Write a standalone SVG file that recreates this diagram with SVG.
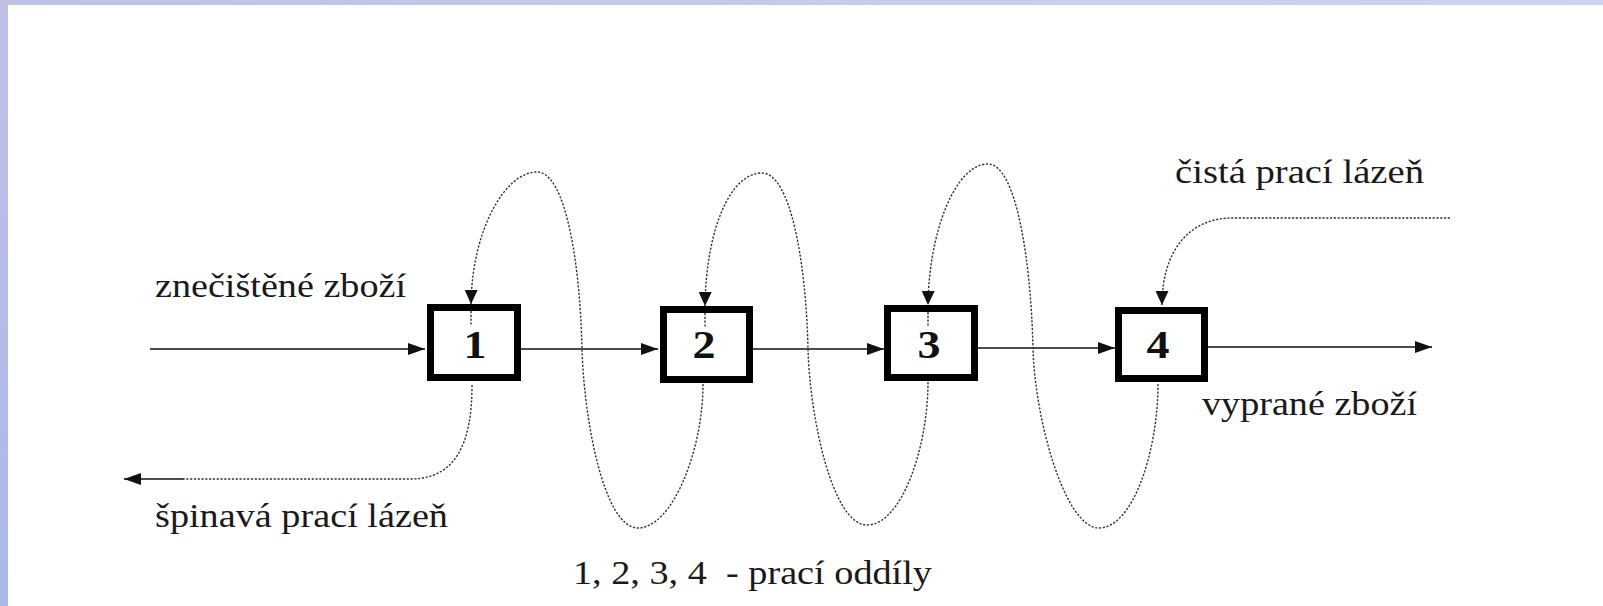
<svg xmlns="http://www.w3.org/2000/svg" width="1603" height="606" viewBox="0 0 1603 606">
<style>
.lbl{font-family:"Liberation Serif","Times New Roman",serif;font-size:33px;fill:#1a1a1a}
.num{font-family:"Liberation Serif","Times New Roman",serif;font-size:40px;font-weight:bold;fill:#111;text-anchor:middle}
.box{fill:#fff;stroke:#000;stroke-width:7}
.solid{fill:none;stroke:#111;stroke-width:1.7}
.dot{fill:none;stroke:#333;stroke-width:1.4;stroke-dasharray:2.2 1.6}
</style>
<defs>
<linearGradient id="gl" x1="0" y1="0" x2="0" y2="1">
<stop offset="0" stop-color="#c0c0e6"/><stop offset="1" stop-color="#a9b9e8"/>
</linearGradient>
<linearGradient id="gt" x1="0" y1="0" x2="1" y2="0">
<stop offset="0" stop-color="#c0c0e6"/><stop offset="1" stop-color="#d2d2ee"/>
</linearGradient>
<marker id="ah" markerUnits="userSpaceOnUse" markerWidth="18" markerHeight="13" refX="17" refY="6" orient="auto">
<path d="M0,0 L17,6 L0,12 z" fill="#111"/>
</marker>
<marker id="av" markerUnits="userSpaceOnUse" markerWidth="14" markerHeight="14" refX="14" refY="6.5" orient="auto">
<path d="M0,0 L14,6.5 L0,13 z" fill="#111"/>
</marker>
</defs>
<rect x="0" y="0" width="1603" height="606" fill="#fff"/>
<rect x="0" y="0" width="8" height="606" fill="url(#gl)"/>
<rect x="8" y="0" width="1595" height="5" fill="url(#gt)"/>

<g id="connectors">
<path class="solid" d="M150 349 L425 349" marker-end="url(#ah)"/>
<path class="solid" d="M521 349 L658 349" marker-end="url(#ah)"/>
<path class="solid" d="M753 349 L884 349" marker-end="url(#ah)"/>
<path class="solid" d="M978 348 L1115 348" marker-end="url(#ah)"/>
<path class="solid" d="M1208 347 L1432 347" marker-end="url(#ah)"/>

<path class="dot" d="M703 384 C703 451, 672 528, 638 528 C604 528, 584 420, 582 349 C580 260, 565 172, 537 172 C505 172, 472 230, 471 304" marker-end="url(#av)"/>
<path class="dot" d="M928 382 C928 449, 901 525, 867 525 C833 525, 810 420, 808 349 C806 260, 790 173, 762 173 C730 173, 706 230, 705 306" marker-end="url(#av)"/>
<path class="dot" d="M1158 384 C1158 451, 1133 528, 1099 528 C1065 528, 1035 420, 1033 349 C1031 260, 1016 164, 988 164 C956 164, 929 230, 928 305" marker-end="url(#av)"/>

<path class="dot" d="M472 385 C472 445, 455 479, 410 479 L182 479"/>
<path class="solid" d="M183 479 L124 479" marker-end="url(#ah)"/>
<path class="dot" d="M1450 218 L1232 218 C1190 218, 1162 250, 1162 305" marker-end="url(#av)"/>
</g>

<g id="box1"><rect class="box" x="430.5" y="307.5" width="87" height="70"/><path class="dot" d="M471 311 L471 325"/><text class="num" transform="translate(475,358) scale(1.15,1)">1</text></g>
<g id="box2"><rect class="box" x="663.5" y="309.5" width="86" height="70"/><path class="dot" d="M705 313 L705 327"/><text class="num" transform="translate(704,358) scale(1.15,1)">2</text></g>
<g id="box3"><rect class="box" x="887.5" y="308.5" width="87" height="69"/><path class="dot" d="M928 312 L928 326"/><text class="num" transform="translate(929,358) scale(1.15,1)">3</text></g>
<g id="box4"><rect class="box" x="1118.5" y="310.5" width="86" height="68"/><text class="num" transform="translate(1158,358) scale(1.15,1)">4</text></g>

<g id="labels">
<text class="lbl" x="155" y="297" textLength="251" lengthAdjust="spacingAndGlyphs">znečištěné zboží</text>
<text class="lbl" x="155" y="527" textLength="293" lengthAdjust="spacingAndGlyphs">špinavá prací lázeň</text>
<text class="lbl" x="1175" y="183" textLength="249" lengthAdjust="spacingAndGlyphs">čistá prací lázeň</text>
<text class="lbl" x="1202" y="415" textLength="215" lengthAdjust="spacingAndGlyphs">vyprané zboží</text>
<text class="lbl" x="573" y="584" textLength="359" lengthAdjust="spacingAndGlyphs" xml:space="preserve">1, 2, 3, 4  - prací oddíly</text>
</g>
</svg>
